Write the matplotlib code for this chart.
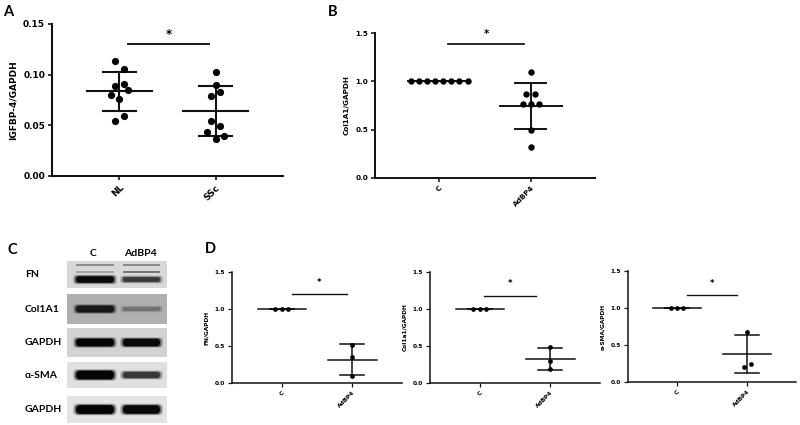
import numpy as np
import matplotlib.pyplot as plt
from matplotlib.patches import Rectangle, FancyBboxPatch

W, H = 800, 425

# ===============================
# DATA
# ===============================
# Panel A: IGFBP-4 / GAPDH
groups_a = ["NL", "SSc"]
nl_vals = [0.113, 0.106, 0.089, 0.091, 0.085, 0.080, 0.076, 0.059, 0.054]
nl_dx = [-0.05, 0.045, -0.05, 0.045, 0.09, -0.09, 0.0, 0.045, -0.05]
ssc_vals = [0.103, 0.090, 0.083, 0.079, 0.054, 0.049, 0.043, 0.039, 0.037]
ssc_dx = [0.0, 0.0, 0.045, -0.045, -0.045, 0.045, -0.09, 0.09, 0.0]

# Panel B: Col1A1 / GAPDH
groups_b = ["C", "AdBP4"]
c_vals_b = [1.0, 1.0, 1.0, 1.0, 1.0, 1.0, 1.0, 1.0]
c_dx_b = [-0.31, -0.22, -0.13, -0.045, 0.045, 0.13, 0.22, 0.31]
ad_vals_b = [1.10, 0.87, 0.87, 0.77, 0.77, 0.77, 0.50, 0.32]
ad_dx_b = [0.0, -0.05, 0.05, -0.09, 0.0, 0.09, 0.0, 0.0]

# Panel D: quantification of blots (n = 3)
c_vals_d = [1.0, 1.0, 1.0]
c_dx_d = [-0.09, 0.0, 0.09]
fn_ad = [0.51, 0.35, 0.09]
fn_dx = [0.0, 0.0, 0.0]
col_ad = [0.48, 0.30, 0.19]
col_dx = [0.0, 0.0, 0.0]
sma_ad = [0.67, 0.20, 0.25]
sma_dx = [0.0, -0.05, 0.05]

# Panel C: western blot rows and band darkness (0 = none, 1 = black)
blot_rows = ["FN", "Col1A1", "GAPDH", "α-SMA", "GAPDH"]
blot_lanes = ["C", "AdBP4"]
band_c = [0.95, 0.88, 0.97, 0.97, 0.98]
band_ad = [0.72, 0.45, 0.95, 0.72, 0.96]

BOLD = ["DejaVu Sans"]
LBL = ["Lato", "DejaVu Sans"]

fig = plt.figure(figsize=(8, 4.25), dpi=100)

bg = fig.add_axes([0, 0, 1, 1])
bg.set_xlim(0, W)
bg.set_ylim(H, 0)
bg.axis("off")


def px_axes(l, t, r, b):
    return fig.add_axes([l / W, 1 - b / H, (r - l) / W, (b - t) / H])


def dot_panel(ax, groups, labels, ylim, yticks, yfmt, ylabel, fs, ms, lw, sig):
    for i, (vals, dx) in enumerate(groups):
        vals = np.array(vals)
        m = vals.mean()
        sd = vals.std(ddof=1)
        ax.plot([i - 0.34, i + 0.34], [m, m], color="#111111", lw=lw, zorder=2)
        ax.plot([i - 0.17, i + 0.17], [m + sd, m + sd], color="#111111", lw=lw, zorder=2)
        ax.plot([i - 0.17, i + 0.17], [m - sd, m - sd], color="#111111", lw=lw, zorder=2)
        ax.plot([i, i], [m - sd, m + sd], color="#111111", lw=lw, zorder=2)
        ax.plot(i + np.array(dx), vals, "o", color="black", ms=ms, zorder=3,
                clip_on=False, markeredgewidth=0)
    ax.set_xlim(-0.7, 1.7)
    ax.set_ylim(*ylim)
    ax.set_yticks(yticks)
    ax.set_yticklabels([yfmt.format(v) for v in yticks], fontsize=fs,
                       fontweight="bold", family=BOLD)
    ax.set_xticks(range(len(labels)))
    ax.set_xticklabels(labels, fontsize=fs, fontweight="bold", family=BOLD,
                       rotation=45, ha="right", va="top", rotation_mode="anchor")
    ax.set_ylabel(ylabel, fontsize=fs, fontweight="bold", family=BOLD, labelpad=4)
    for s in ["top", "right"]:
        ax.spines[s].set_visible(False)
    for s in ["left", "bottom"]:
        ax.spines[s].set_linewidth(lw)
        ax.spines[s].set_color("#111111")
    ax.tick_params(width=lw * 0.8, length=3, pad=2, color="#111111")
    ax.set_facecolor("none")
    x0, x1, yb, ys = sig
    ax.plot([x0, x1], [yb, yb], color="#111111", lw=lw * 0.9, clip_on=False)
    ax.text((x0 + x1) / 2, ys, "*", ha="center", va="center", fontsize=fs + 2,
            fontweight="bold", family=BOLD)


# Panel A
ax_a = px_axes(52, 24, 283, 176)
dot_panel(ax_a, [(nl_vals, nl_dx), (ssc_vals, ssc_dx)], groups_a,
          (0, 0.15), [0.0, 0.05, 0.10, 0.15], "{:.2f}", "IGFBP-4/GAPDH",
          6.5, 5.2, 1.5, (0.09, 0.93, 0.130, 0.140))

# Panel B
ax_b = px_axes(375, 33, 595, 178)
dot_panel(ax_b, [(c_vals_b, c_dx_b), (ad_vals_b, ad_dx_b)], groups_b,
          (0, 1.5), [0.0, 0.5, 1.0, 1.5], "{:.1f}", "Col1A1/GAPDH",
          5.2, 4.6, 1.4, (0.1, 0.93, 1.385, 1.49))

# Panel D
d_specs = [
    ((232, 272, 402, 383), fn_ad, fn_dx, "FN/GAPDH", (0.15, 0.92, 1.20, 1.36)),
    ((430, 272, 600, 383), col_ad, col_dx, "Col1a1/GAPDH", (0.06, 0.80, 1.17, 1.35)),
    ((628, 271, 796, 382), sma_ad, sma_dx, "α-SMA/GAPDH", (0.14, 0.86, 1.18, 1.33)),
]
for rect, vals, dx, lab, sig in d_specs:
    ax = px_axes(*rect)
    dot_panel(ax, [(c_vals_d, c_dx_d), (vals, dx)], groups_b,
              (0, 1.5), [0.0, 0.5, 1.0, 1.5], "{:.1f}", lab,
              4.2, 3.4, 1.1, sig)

# Panel labels
for lab, x, y in [("A", 8, 12), ("B", 333, 12), ("C", 12, 250), ("D", 210, 249)]:
    bg.text(x, y, lab, fontsize=10.5, fontweight="bold", family=LBL,
            ha="center", va="center")

# Panel C: western blot
strip_y = [(261, 288), (294, 324), (328, 357), (362, 388), (396, 423)]
strip_bg = ["#d8d8d8", "#b0b0b0", "#d2d2d2", "#e0e0e0", "#e4e4e4"]
lane_x = [(76, 114), (123, 160)]
band_h = [7, 8, 8, 9, 9]

for lx, lab in zip([93, 140], blot_lanes):
    bg.text(lx, 253, lab, fontsize=7.5, fontweight="bold", family=LBL,
            ha="center", va="center")

for r, name in enumerate(blot_rows):
    y0, y1 = strip_y[r]
    bg.add_patch(Rectangle((67, y0), 100, y1 - y0, color=strip_bg[r], lw=0))
    bg.text(25, (y0 + y1) / 2, name, fontsize=7.5, fontweight="bold",
            family=LBL, ha="left", va="center")
    yc = (y0 + y1) / 2 + (5 if r == 0 else 0)
    for (xa, xb), dark in zip(lane_x, [band_c[r], band_ad[r]]):
        h = band_h[r] * (0.35 + 0.65 * dark ** 2)
        g = 1 - dark
        for k, a in [(3.0, 0.2), (1.5, 0.45), (0, 1.0)]:
            bg.add_patch(FancyBboxPatch((xa - k, yc - h / 2 - k / 2), xb - xa + 2 * k, h + k,
                                        boxstyle="round,pad=0,rounding_size=%.1f" % (h / 2),
                                        color=(g * 0.8, g * 0.8, g * 0.8), alpha=a, lw=0))
    if r == 0:
        # faint upper FN bands
        for (xa, xb), dark in zip(lane_x, [band_c[0], band_ad[0]]):
            for yy, f in [(265, 0.35), (272, 0.25 if dark > 0.8 else 0.45)]:
                g = 1 - f
                bg.add_patch(Rectangle((xa, yy - 1.2), xb - xa, 2.4,
                                       color=(g * 0.85, g * 0.85, g * 0.85), lw=0))

fig.savefig("out.png", dpi=100)
